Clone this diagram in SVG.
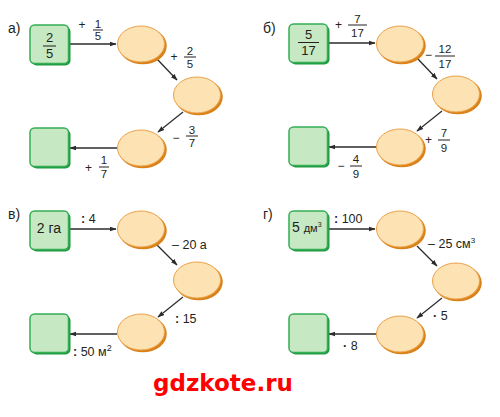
<svg xmlns="http://www.w3.org/2000/svg" width="500" height="417" viewBox="0 0 500 417">
<defs>
<style>
text{font-family:"Liberation Sans",Arial,sans-serif;fill:#231f20}
.lbl{font-size:14px}
.f{font-size:11.5px;text-anchor:middle}
.fi{font-size:13px;text-anchor:middle}
.op{font-size:12px;text-anchor:middle}
.t{font-size:12.5px}
.bar{stroke:#231f20;stroke-width:1}
.sqs{fill:#1f9a40}
.sq{fill:#c6e8c2;stroke:#35ad55;stroke-width:1.5}
.els{fill:#d9821a}
.el{fill:#fde2b3;stroke:#eba24a;stroke-width:1}
.arr{stroke:#2b2b2b;stroke-width:1.3;fill:none;marker-end:url(#ah)}
.wm{font-family:"DejaVu Sans",Verdana,sans-serif;font-weight:bold;font-size:23px;fill:#ff0000}
</style>
<marker id="ah" viewBox="0 0 10 10" refX="9" refY="5" markerWidth="7" markerHeight="7" markerUnits="userSpaceOnUse" orient="auto">
<path d="M0,1.5 L10,5 L0,8.5 Z" fill="#2b2b2b"/>
</marker>
<g id="sqshape"><rect class="sqs" x="1.5" y="1.5" width="39" height="39" rx="5"/><rect class="sq" x="0" y="0" width="38.5" height="38.5" rx="4.5"/></g>
<g id="elshape"><ellipse class="els" cx="1.8" cy="1.8" rx="24" ry="18.5"/><ellipse class="el" cx="0" cy="0" rx="23.5" ry="18"/></g>
</defs>

<!-- connectors -->
<g id="connectors">
<line class="arr" x1="69" y1="44" x2="116" y2="44"/>
<line class="arr" x1="157" y1="59" x2="177" y2="80"/>
<line class="arr" x1="183" y1="112" x2="158" y2="132"/>
<line class="arr" x1="117" y1="148" x2="70" y2="148"/>

<line class="arr" x1="328" y1="43" x2="375" y2="43"/>
<line class="arr" x1="417" y1="58" x2="437" y2="79"/>
<line class="arr" x1="442" y1="111" x2="417" y2="131"/>
<line class="arr" x1="376" y1="147" x2="329" y2="147"/>

<line class="arr" x1="69" y1="229" x2="116" y2="229"/>
<line class="arr" x1="157" y1="245" x2="177" y2="265"/>
<line class="arr" x1="183" y1="297" x2="158" y2="317"/>
<line class="arr" x1="117" y1="334" x2="70" y2="334"/>

<line class="arr" x1="328" y1="229" x2="375" y2="229"/>
<line class="arr" x1="417" y1="246" x2="437" y2="266"/>
<line class="arr" x1="442" y1="298" x2="417" y2="318"/>
<line class="arr" x1="376" y1="334" x2="329" y2="334"/>
</g>

<!-- panel a -->
<text class="lbl" x="8" y="33">а)</text>
<g id="a-start"><use href="#sqshape" x="30" y="25"/>
<text class="fi" x="49.5" y="42">2</text><line class="bar" x1="43" y1="46" x2="56" y2="46"/><text class="fi" x="49.5" y="58">5</text></g>
<g id="a-e1"><use href="#elshape" x="141" y="44"/></g>
<g id="a-e2"><use href="#elshape" x="197" y="95"/></g>
<g id="a-e3"><use href="#elshape" x="141" y="148"/></g>
<g id="a-end"><use href="#sqshape" x="30" y="128"/></g>
<g id="a-labels">
<text class="op" x="82" y="29">+</text><text class="f" x="98" y="27.5">1</text><line class="bar" x1="93" y1="30" x2="103" y2="30"/><text class="f" x="98" y="40">5</text>
<text class="op" x="174" y="61">+</text><text class="f" x="190" y="54.5">2</text><line class="bar" x1="184" y1="57" x2="196" y2="57"/><text class="f" x="190" y="67.5">5</text>
<text class="op" x="176" y="142">−</text><text class="f" x="192" y="133.5">3</text><line class="bar" x1="186" y1="136" x2="198" y2="136"/><text class="f" x="192" y="147">7</text>
<text class="op" x="88.5" y="172">+</text><text class="f" x="104" y="164">1</text><line class="bar" x1="99" y1="167" x2="109" y2="167"/><text class="f" x="104" y="178">7</text>
</g>

<!-- panel б -->
<text class="lbl" x="263" y="33">б)</text>
<g id="b-start"><use href="#sqshape" x="289" y="24"/>
<text class="fi" x="308.5" y="39">5</text><line class="bar" x1="298" y1="42.5" x2="319" y2="42.5"/><text class="fi" x="308.5" y="55">17</text></g>
<g id="b-e1"><use href="#elshape" x="400" y="44"/></g>
<g id="b-e2"><use href="#elshape" x="456" y="94"/></g>
<g id="b-e3"><use href="#elshape" x="400" y="147"/></g>
<g id="b-end"><use href="#sqshape" x="289" y="127"/></g>
<g id="b-labels">
<text class="op" x="338.5" y="29">+</text><text class="f" x="357.5" y="23">7</text><line class="bar" x1="348" y1="25" x2="367" y2="25"/><text class="f" x="357.5" y="37">17</text>
<text class="op" x="428.5" y="59">−</text><text class="f" x="445" y="53">12</text><line class="bar" x1="435" y1="56" x2="455" y2="56"/><text class="f" x="445" y="68">17</text>
<text class="op" x="428.5" y="144">+</text><text class="f" x="444" y="137">7</text><line class="bar" x1="438" y1="140" x2="450" y2="140"/><text class="f" x="444" y="152">9</text>
<text class="op" x="341" y="170">−</text><text class="f" x="356" y="163">4</text><line class="bar" x1="350" y1="166" x2="362" y2="166"/><text class="f" x="356" y="178">9</text>
</g>

<!-- panel в -->
<text class="lbl" x="8" y="219">в)</text>
<g id="c-start"><use href="#sqshape" x="30" y="211"/>
<text x="49" y="233" font-size="14" text-anchor="middle">2 га</text></g>
<g id="c-e1"><use href="#elshape" x="141" y="229"/></g>
<g id="c-e2"><use href="#elshape" x="197" y="280"/></g>
<g id="c-e3"><use href="#elshape" x="141" y="332"/></g>
<g id="c-end"><use href="#sqshape" x="30" y="314"/></g>
<g id="c-labels">
<text class="t" x="81" y="223"><tspan font-weight="bold">:</tspan> 4</text>
<text class="t" x="172" y="249">– 20 а</text>
<text class="t" x="175" y="323"><tspan font-weight="bold">:</tspan> 15</text>
<text class="t" x="73" y="356"><tspan font-weight="bold">:</tspan> 50 м<tspan font-size="9" dy="-5">2</tspan></text>
</g>

<!-- panel г -->
<text class="lbl" x="263" y="219">г)</text>
<g id="d-start"><use href="#sqshape" x="289" y="211"/>
<text x="292" y="232" font-size="14">5 <tspan font-size="11">дм</tspan><tspan font-size="7" dy="-5">3</tspan></text></g>
<g id="d-e1"><use href="#elshape" x="400" y="229"/></g>
<g id="d-e2"><use href="#elshape" x="456" y="281"/></g>
<g id="d-e3"><use href="#elshape" x="400" y="334"/></g>
<g id="d-end"><use href="#sqshape" x="289" y="314"/></g>
<g id="d-labels">
<text class="t" x="334" y="223"><tspan font-weight="bold">:</tspan> 100</text>
<text class="t" x="428" y="248">– 25 см<tspan font-size="8" dy="-5">3</tspan></text>
<text class="t" x="433" y="320"><tspan font-weight="bold">·</tspan> 5</text>
<text class="t" x="343" y="350"><tspan font-weight="bold">·</tspan> 8</text>
</g>

<text class="wm" x="153" y="391">gdzkote.ru</text>
</svg>
